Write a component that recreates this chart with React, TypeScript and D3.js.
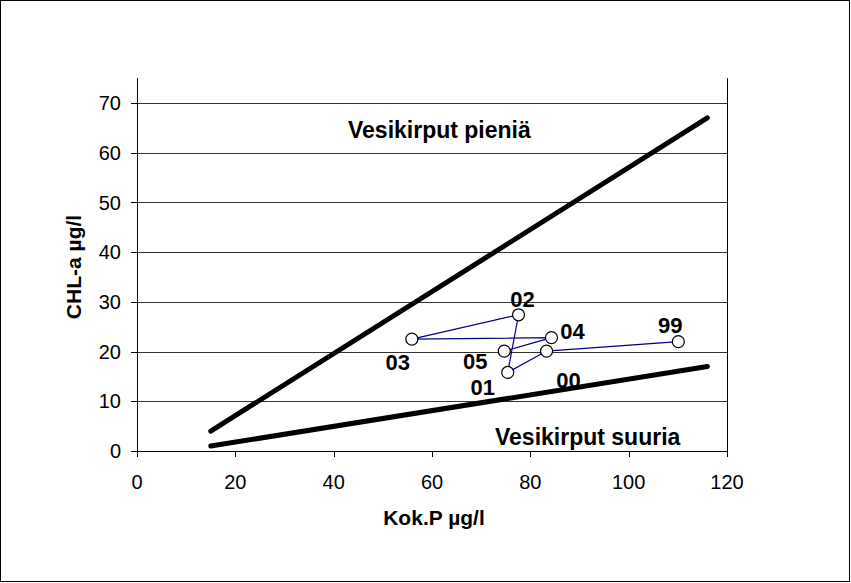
import * as React from "react";
import * as d3 from "d3";

const years = ["99", "00", "01", "02", "03", "04", "05"];
const kokP = [110.1, 83.3, 75.4, 77.6, 55.9, 84.3, 74.7];
const chla = [22.0, 20.1, 15.8, 27.4, 22.5, 22.8, 20.1];
// label offsets [dx, dy] from the marker, in px
const labelOffsets: [number, number][] = [
  [-8, -17],
  [22, 29],
  [-25, 15],
  [4, -16],
  [-14, 23],
  [21, -7],
  [-29, 10],
];

const upperLineX = [15, 116];
const upperLineY = [4, 67];
const lowerLineX = [15, 116];
const lowerLineY = [1, 17];

const xTicks = [0, 20, 40, 60, 80, 100, 120];
const yTicks = [0, 10, 20, 30, 40, 50, 60, 70];

const W = 851;
const H = 583;
const font = "Arial, 'Liberation Sans', sans-serif";

export default function App() {
  const x = d3.scaleLinear().domain([0, 120]).range([137, 727]);
  const y = d3.scaleLinear().domain([0, 70]).range([451, 103]);
  const yTop = y(75);

  const line = d3
    .line<[number, number]>()
    .x(d => x(d[0]))
    .y(d => y(d[1]));

  const upper = line(upperLineX.map((v, i) => [v, upperLineY[i]]));
  const lower = line(lowerLineX.map((v, i) => [v, lowerLineY[i]]));
  const series = line(kokP.map((v, i) => [v, chla[i]]));

  const px = (v: number) => Math.round(v) + 0.5;

  return (
    <svg
      width={W}
      height={H}
      style={{ position: "absolute", left: 0, top: 0, background: "#fff" }}
      fontFamily={font}
    >
      <rect x={0.5} y={0.5} width={W - 2} height={H - 2} fill="#fff" stroke="#000" />

      {/* gridlines */}
      {yTicks.filter(t => t > 0).map(t => (
        <line key={t} x1={x(0)} x2={x(120)} y1={px(y(t))} y2={px(y(t))} stroke="#333" strokeWidth={1} />
      ))}

      {/* axes and plot frame */}
      <line x1={px(x(0))} x2={px(x(0))} y1={yTop} y2={y(0)} stroke="#000" />
      <line x1={px(x(120))} x2={px(x(120))} y1={yTop} y2={y(0)} stroke="#000" />
      <line x1={x(0)} x2={x(120)} y1={px(y(0))} y2={px(y(0))} stroke="#000" />
      {yTicks.map(t => (
        <g key={t}>
          <line x1={x(0) - 6} x2={x(0)} y1={px(y(t))} y2={px(y(t))} stroke="#000" />
          <text x={x(0) - 16} y={y(t)} dy="0.36em" textAnchor="end" fontSize={20}>
            {t}
          </text>
        </g>
      ))}
      {xTicks.map(t => (
        <g key={t}>
          <line x1={px(x(t))} x2={px(x(t))} y1={y(0)} y2={y(0) + 6} stroke="#000" />
          <text x={x(t)} y={489} textAnchor="middle" fontSize={20}>
            {t}
          </text>
        </g>
      ))}

      {/* series */}
      <path d={series ?? ""} fill="none" stroke="#000080" strokeWidth={1.2} />
      {kokP.map((v, i) => (
        <circle key={i} cx={x(v)} cy={y(chla[i])} r={6} fill="#fff" stroke="#000" strokeWidth={1.2} />
      ))}
      {years.map((yr, i) => (
        <text
          key={yr}
          x={x(kokP[i]) + labelOffsets[i][0]}
          y={y(chla[i]) + labelOffsets[i][1]}
          dy="0.36em"
          textAnchor="middle"
          fontSize={22}
          fontWeight="bold"
        >
          {yr}
        </text>
      ))}

      {/* boundary lines */}
      <path d={upper ?? ""} fill="none" stroke="#000" strokeWidth={5} strokeLinecap="round" />
      <path d={lower ?? ""} fill="none" stroke="#000" strokeWidth={5} strokeLinecap="round" />

      {/* region labels */}
      <text x={348} y={138} fontSize={23} fontWeight="bold">
        Vesikirput pieniä
      </text>
      <text x={495} y={445} fontSize={23} fontWeight="bold">
        Vesikirput suuria
      </text>

      {/* axis titles */}
      <text x={434} y={525} textAnchor="middle" fontSize={21} fontWeight="bold">
        Kok.P µg/l
      </text>
      <text
        transform={`translate(81,267) rotate(-90)`}
        textAnchor="middle"
        fontSize={21}
        fontWeight="bold"
      >
        CHL-a µg/l
      </text>
    </svg>
  );
}
